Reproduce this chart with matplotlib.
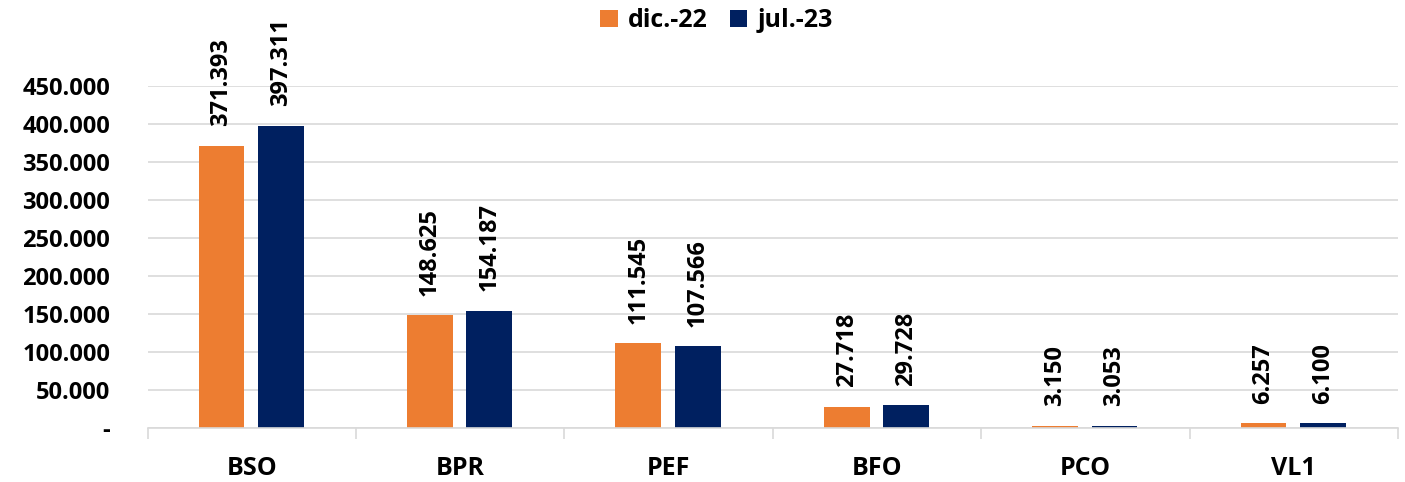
import numpy as np
import matplotlib.pyplot as plt
from matplotlib.ticker import FuncFormatter

# Datos
categorias = ['BSO', 'BPR', 'PEF', 'BFO', 'PCO', 'VL1']
dic22 = [371393, 148625, 111545, 27718, 3150, 6257]
jul23 = [397311, 154187, 107566, 29728, 3053, 6100]
series = ['dic.-22', 'jul.-23']

naranja = '#ED7D31'
azul = '#002060'

plt.rcParams['font.family'] = ['Open Sans', 'DejaVu Sans']
plt.rcParams['font.weight'] = 'bold'

fig = plt.figure(figsize=(14.05, 4.82), dpi=100, facecolor='white')
ax = fig.add_axes([0.105, 0.112, 0.89, 0.71])

x = np.arange(len(categorias))
ancho = 0.22
b1 = ax.bar(x - 0.145, dic22, ancho, color=naranja, label=series[0])
b2 = ax.bar(x + 0.14, jul23, ancho, color=azul, label=series[1])

def miles(v):
    return '{:,.0f}'.format(v).replace(',', '.')

for barras in (b1, b2):
    for b in barras:
        h = b.get_height()
        ax.annotate(miles(h), (b.get_x() + b.get_width() / 2, h),
                    xytext=(0, 14), textcoords='offset points',
                    rotation=90, ha='center', va='bottom',
                    fontsize=17, fontweight='bold', annotation_clip=False)

ax.set_xlim(-0.5, len(categorias) - 0.5)
ax.set_ylim(0, 450000)
ax.set_yticks(np.arange(0, 450001, 50000))
ax.yaxis.set_major_formatter(FuncFormatter(lambda v, p: '-' if v == 0 else miles(v)))
ax.grid(axis='y', color='#D9D9D9', linewidth=1.2)
ax.set_axisbelow(True)

ax.set_xticks(x)
ax.set_xticklabels(categorias)
ax.set_xticks(np.arange(-0.5, len(categorias)), minor=True)
ax.tick_params(axis='x', which='major', length=0, pad=20, labelsize=18)
ax.tick_params(axis='x', which='minor', length=8, color='#D9D9D9', width=1.2)
ax.tick_params(axis='y', length=0, pad=27, labelsize=17)
for lab in ax.get_xticklabels() + ax.get_yticklabels():
    lab.set_fontweight('bold')

for s in ['top', 'right', 'left']:
    ax.spines[s].set_visible(False)
ax.spines['bottom'].set_color('#D9D9D9')
ax.spines['bottom'].set_linewidth(1.2)

leg = fig.legend(loc='upper center', bbox_to_anchor=(0.51, 1.03), ncol=2, frameon=False,
                 prop={'weight': 'bold', 'size': 18}, handlelength=0.7, handleheight=0.7,
                 columnspacing=0.9, handletextpad=0.4)

fig.savefig('out.png', dpi=100, facecolor='white')
